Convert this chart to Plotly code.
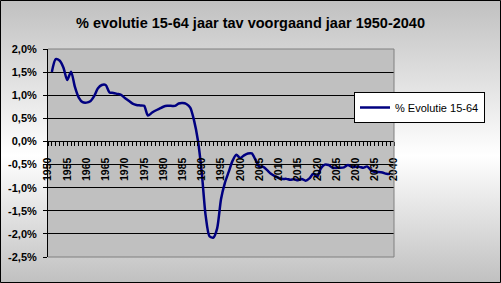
import base64
import plotly.graph_objects as go

# ---------------- data ----------------
years = list(range(1951, 2040))
evolutie_15_64 = [
    1.50, 1.78, 1.75, 1.60, 1.33, 1.51, 1.18, 0.95, 0.85, 0.84,      # 1951-1960
    0.87, 0.98, 1.15, 1.22, 1.22, 1.06, 1.05, 1.03, 1.01, 0.94,      # 1961-1970
    0.88, 0.82, 0.79, 0.78, 0.77, 0.56, 0.62, 0.67, 0.71, 0.75,      # 1971-1980
    0.77, 0.77, 0.77, 0.82, 0.83, 0.81, 0.73, 0.45, 0.02, -0.68,     # 1981-1990
    -1.60, -2.05, -2.08, -1.88, -1.25, -0.90, -0.66, -0.42, -0.29, -0.36,  # 1991-2000
    -0.30, -0.26, -0.26, -0.40, -0.55, -0.55, -0.62, -0.70, -0.75, -0.79,  # 2001-2010
    -0.81, -0.81, -0.83, -0.82, -0.84, -0.81, -0.85, -0.80, -0.70, -0.76,  # 2011-2020
    -0.58, -0.50, -0.51, -0.57, -0.57, -0.57, -0.56, -0.51, -0.55, -0.55,  # 2021-2030
    -0.55, -0.57, -0.54, -0.62, -0.66, -0.66, -0.67, -0.70, -0.70,         # 2031-2039
]
series_name = "% Evolutie 15-64"
title_text = "% evolutie 15-64 jaar tav voorgaand jaar 1950-2040"

axis_years = list(range(1950, 2041))
x_label_years = list(range(1950, 2041, 5))
x_labels = [str(y) for y in x_label_years]

y_tick_values = [2.0, 1.5, 1.0, 0.5, 0.0, -0.5, -1.0, -1.5, -2.0, -2.5]
y_tick_labels = ["2,0%", "1,5%", "1,0%", "0,5%", "0,0%",
                 "-0,5%", "-1,0%", "-1,5%", "-2,0%", "-2,5%"]

# ---------------- geometry ----------------
W, H = 501, 283
ML, MR, MT, MB = 48, 107, 49, 26
PW, PH = W - ML - MR, H - MT - MB


def px_x(px):
    return (px - ML) / PW


def px_y(py):
    return (H - MB - py) / PH


FONT = "Liberation Sans, Arial, sans-serif"

label_map = dict(zip(x_label_years, x_labels))
x_tickvals = axis_years
x_ticktext = [label_map.get(y, "") for y in axis_years]

fig = go.Figure()
fig.add_trace(go.Scatter(
    x=years, y=evolutie_15_64, mode="lines", name=series_name,
    line=dict(color="#000080", width=2.5, shape="spline", smoothing=0.7),
    showlegend=True,
))

# gradient background for the whole chart area
svg = (
    '<svg xmlns="http://www.w3.org/2000/svg" width="501" height="283" '
    'preserveAspectRatio="none" viewBox="0 0 501 283">'
    '<defs><linearGradient id="g" x1="0" y1="0" x2="0" y2="1">'
    '<stop offset="0" stop-color="#c0c0c0"/>'
    '<stop offset="0.55" stop-color="#ffffff"/>'
    '<stop offset="1" stop-color="#c0c0c0"/>'
    '</linearGradient></defs>'
    '<rect x="0" y="0" width="501" height="283" fill="url(#g)"/></svg>'
)
src = "data:image/svg+xml;base64," + base64.b64encode(svg.encode()).decode()

fig.add_layout_image(dict(
    source=src, xref="paper", yref="paper",
    x=px_x(0), y=px_y(0), sizex=W / PW, sizey=H / PH,
    xanchor="left", yanchor="top", sizing="stretch", layer="below",
))

shapes = [
    # plot area fill
    dict(type="rect", xref="paper", yref="paper", x0=0, x1=1, y0=0, y1=1,
         fillcolor="#c0c0c0", line=dict(width=0), layer="below"),
    # plot area border (top, right, bottom)
    dict(type="path", xref="paper", yref="paper", path="M0,1 L1,1 L1,0 L0,0",
         line=dict(color="#808080", width=1), layer="above"),
    # outer chart border
    dict(type="rect", xref="paper", yref="paper",
         x0=px_x(0.5), x1=px_x(W - 0.5), y0=px_y(H - 0.5), y1=px_y(0.5),
         line=dict(color="black", width=1), fillcolor="rgba(0,0,0,0)", layer="above"),
]

fig.update_layout(
    width=W, height=H,
    margin=dict(l=ML, r=MR, t=MT, b=MB, pad=0),
    paper_bgcolor="#c0c0c0", plot_bgcolor="#c0c0c0",
    font=dict(family=FONT, color="black"),
    title=dict(text=title_text, x=0.5, xref="container", xanchor="center",
               y=1 - 23 / H, yref="container", yanchor="middle",
               font=dict(family=FONT, size=14.5, weight="bold", color="black")),
    shapes=shapes,
    showlegend=True,
    legend=dict(x=px_x(354), y=px_y(92), xanchor="left", yanchor="top",
                bgcolor="white", bordercolor="black", borderwidth=1,
                font=dict(family=FONT, size=11, color="black"),
                itemwidth=30, tracegroupgap=0),
    xaxis=dict(range=[1950, 2040], anchor="free", position=2.5 / 4.5,
               tickmode="array", tickvals=x_tickvals, ticktext=x_ticktext,
               tickangle=-90, ticks="outside", ticklen=4, tickcolor="black",
               tickwidth=1, showline=True, linecolor="black", linewidth=1,
               showgrid=False, zeroline=False, automargin=False,
               ticklabelstandoff=7,
               tickfont=dict(family=FONT, size=10.5, weight="bold", color="black")),
    yaxis=dict(range=[-2.5, 2.0], tickmode="array", tickvals=y_tick_values,
               ticktext=y_tick_labels, ticks="outside", ticklen=4,
               tickcolor="black", showline=True, linecolor="black", linewidth=1,
               showgrid=True, gridcolor="black", gridwidth=1, zeroline=False,
               automargin=False, ticklabelstandoff=4,
               tickfont=dict(family=FONT, size=11, weight="bold", color="black")),
)

fig.write_html("out.html")
